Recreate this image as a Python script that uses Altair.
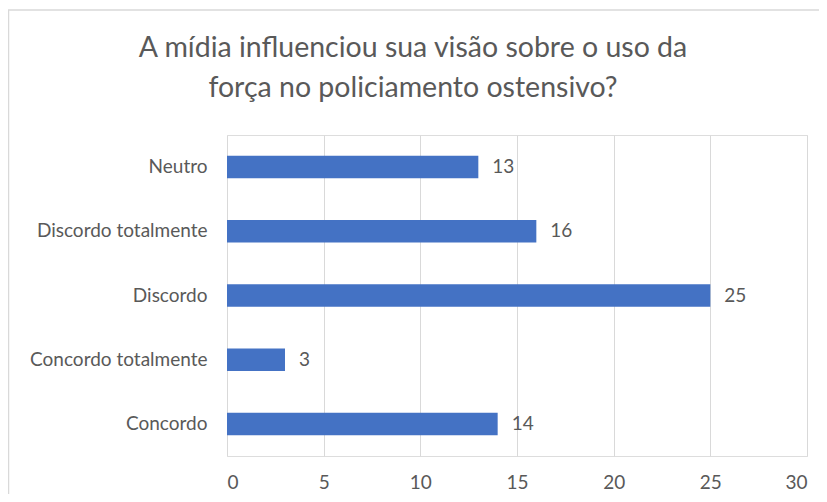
import altair as alt
import pandas as pd

categories = ["Neutro", "Discordo totalmente", "Discordo", "Concordo totalmente", "Concordo"]
values = [13, 16, 25, 3, 14]
x_ticks = [0, 5, 10, 15, 20, 25, 30]
title_lines = ["A mídia influenciou sua visão sobre o uso da", "força no policiamento ostensivo?"]

df = pd.DataFrame({"cat": categories, "val": values})

FONT = "Lato"
GREY = "#595959"
FS = 19

x_scale = alt.Scale(domain=[0, 30], nice=False)
y_scale = alt.Scale(domain=categories, paddingInner=0.65, paddingOuter=0.325)

base = alt.Chart(df)

bars = base.mark_bar(color="#4472C4").encode(
    x=alt.X("val:Q", scale=x_scale,
            axis=alt.Axis(values=x_ticks, title=None, grid=True, gridColor="#d9d9d9",
                          domain=False, ticks=False, labelPadding=17,
                          labelFont=FONT, labelFontSize=FS, labelColor=GREY)),
    y=alt.Y("cat:N", scale=y_scale, sort=categories,
            axis=alt.Axis(title=None, domain=False, ticks=False, labelPadding=20,
                          labelFont=FONT, labelFontSize=FS, labelColor=GREY, labelLimit=300)),
)

labels = base.mark_text(align="left", baseline="middle", dx=14, font=FONT, fontSize=FS, color=GREY).encode(
    x=alt.X("val:Q", scale=x_scale),
    y=alt.Y("cat:N", scale=y_scale, sort=categories),
    text=alt.Text("val:Q"),
)

frame = alt.Chart(pd.DataFrame({"k": [0]})).mark_rect(fill=None, stroke="#d9d9d9", strokeWidth=1.5).encode(
    x=alt.value(-218.5), x2=alt.value(640), y=alt.value(-125), y2=alt.value(400)
)

chart = alt.layer(frame, bars, labels).properties(
    width=580,
    height=321,
    autosize=alt.AutoSizeParams(type="none"),
    padding={"left": 219, "top": 127, "right": 12, "bottom": 38},
    title=alt.TitleParams(text=title_lines, font=FONT, fontSize=28.5, fontWeight="normal",
                          color=GREY, lineHeight=40, anchor="middle", dx=-104, offset=-93),
).configure_view(stroke=None).configure(background="white")

chart.save("out.html", embed_options={"renderer": "svg", "actions": False})
